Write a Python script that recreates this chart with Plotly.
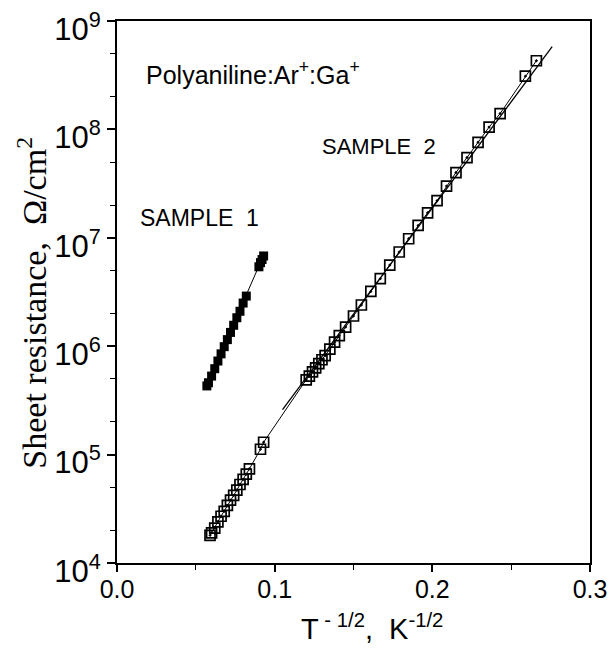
import plotly.graph_objects as go

# Sample 1 (filled squares)
s1_x = [0.057, 0.058, 0.060, 0.062, 0.064, 0.066, 0.068, 0.070, 0.072, 0.074, 0.076,
        0.078, 0.080, 0.082, 0.090, 0.091, 0.092, 0.093]
s1_y = [4.3e5, 4.6e5, 5.3e5, 6.2e5, 7.3e5, 8.5e5, 9.9e5, 1.15e6, 1.34e6, 1.56e6, 1.83e6,
        2.1e6, 2.5e6, 2.9e6, 5.4e6, 5.9e6, 6.3e6, 6.8e6]

# Sample 2 (open squares)
s2_x = [0.059, 0.060, 0.062, 0.064, 0.066, 0.068, 0.070, 0.072, 0.074, 0.076, 0.078,
        0.080, 0.082, 0.084, 0.091, 0.093,
        0.120, 0.122, 0.124, 0.126, 0.128, 0.130, 0.132, 0.135, 0.138, 0.141, 0.145,
        0.150, 0.155, 0.161, 0.167, 0.173, 0.179, 0.185, 0.191, 0.197, 0.203, 0.209,
        0.215, 0.222, 0.229, 0.236, 0.243, 0.259, 0.266]
s2_y = [1.8e4, 1.9e4, 2.1e4, 2.4e4, 2.7e4, 3.0e4, 3.4e4, 3.8e4, 4.2e4, 4.7e4, 5.3e4,
        5.9e4, 6.6e4, 7.4e4, 1.12e5, 1.3e5,
        4.9e5, 5.3e5, 5.8e5, 6.3e5, 6.9e5, 7.5e5, 8.2e5, 9.4e5, 1.09e6, 1.25e6, 1.5e6,
        1.9e6, 2.4e6, 3.2e6, 4.2e6, 5.6e6, 7.4e6, 9.8e6, 1.3e7, 1.7e7, 2.2e7, 3.0e7,
        4.0e7, 5.5e7, 7.6e7, 1.05e8, 1.4e8, 3.1e8, 4.3e8]

# Fit lines
fit1_x = [0.057, 0.093]
fit1_y = [4.4e5, 6.9e6]
fit2_x = [0.105, 0.276]
fit2_y = [2.6e5, 5.8e8]

y_tickvals = [1e4, 1e5, 1e6, 1e7, 1e8, 1e9]
y_ticktext = ["10<sup>4</sup>", "10<sup>5</sup>", "10<sup>6</sup>", "10<sup>7</sup>",
              "10<sup>8</sup>", "10<sup>9</sup>"]
x_tickvals = [0.0, 0.1, 0.2, 0.3]
x_ticktext = ["0.0", "0.1", "0.2", "0.3"]

SANS = "Liberation Sans, Arial"
SERIF = "Liberation Serif, Times New Roman"

fig = go.Figure()
fig.add_trace(go.Scatter(x=fit2_x, y=fit2_y, mode="lines",
                         line=dict(color="black", width=1.3), showlegend=False))
fig.add_trace(go.Scatter(x=fit1_x, y=fit1_y, mode="lines",
                         line=dict(color="black", width=1.0), showlegend=False))
fig.add_trace(go.Scatter(x=s2_x, y=s2_y, mode="lines+markers",
                         line=dict(color="black", width=1.0),
                         marker=dict(symbol="square-open-dot", size=10, color="black",
                                     line=dict(width=1.7, color="black")),
                         showlegend=False))
fig.add_trace(go.Scatter(x=s1_x, y=s1_y, mode="markers",
                         marker=dict(symbol="square", size=9, color="black"),
                         showlegend=False))

fig.update_layout(
    width=616, height=657,
    margin=dict(l=109, r=34, t=13, b=102, autoexpand=False),
    paper_bgcolor="white", plot_bgcolor="white",
    xaxis=dict(range=[0, 0.3], tickvals=x_tickvals, ticktext=x_ticktext,
               automargin=False,
               showgrid=False, zeroline=False, showline=True, linecolor="black",
               linewidth=2, mirror=True, ticks="outside", ticklen=7, tickwidth=1.5,
               tickcolor="black", ticklabeloverflow="allow", ticklabelstandoff=-4,
               tickfont=dict(family=SANS, size=25, color="black"),
               minor=dict(tickvals=[0.05, 0.15, 0.25], ticks="outside", ticklen=5,
                          tickwidth=1.2, tickcolor="black")),
    yaxis=dict(type="log", range=[4, 9], tickvals=y_tickvals, ticktext=y_ticktext,
               automargin=False,
               showgrid=False, zeroline=False, showline=True, linecolor="black",
               linewidth=2, mirror=True, ticks="outside", ticklen=8, tickwidth=1.5,
               tickcolor="black", ticklabeloverflow="allow", ticklabelshift=8,
               tickfont=dict(family=SANS, size=31, color="black"),
               minor=dict(ticks="outside", ticklen=5, tickwidth=1, tickcolor="black",
                          showgrid=False)),
    annotations=[
        dict(x=-0.18, y=0.48, xref="paper", yref="paper",
             text="Sheet resistance,  Ω/cm<sup>2</sup>", textangle=-90,
             showarrow=False, xanchor="center", yanchor="middle",
             font=dict(family=SERIF, size=34, color="black")),
        dict(x=0.54, y=-0.118, xref="paper", yref="paper",
             text="T<sup> - 1/2</sup>,  K<sup>-1/2</sup>",
             showarrow=False, xanchor="center", yanchor="middle",
             font=dict(family=SANS, size=29, color="black")),
        dict(x=0.017, y=8.52, xref="x", yref="y",
             text="Polyaniline:Ar<sup>+</sup>:Ga<sup>+</sup>",
             showarrow=False, xanchor="left", yanchor="middle",
             font=dict(family=SANS, size=25, color="black")),
        dict(x=0.129, y=7.84, xref="x", yref="y", text="SAMPLE  2",
             showarrow=False, xanchor="left", yanchor="middle",
             font=dict(family=SANS, size=22, color="black")),
        dict(x=0.0135, y=7.18, xref="x", yref="y", text="SAMPLE  1",
             showarrow=False, xanchor="left", yanchor="middle",
             font=dict(family=SANS, size=23, color="black")),
    ],
)

fig.write_html("out.html")
